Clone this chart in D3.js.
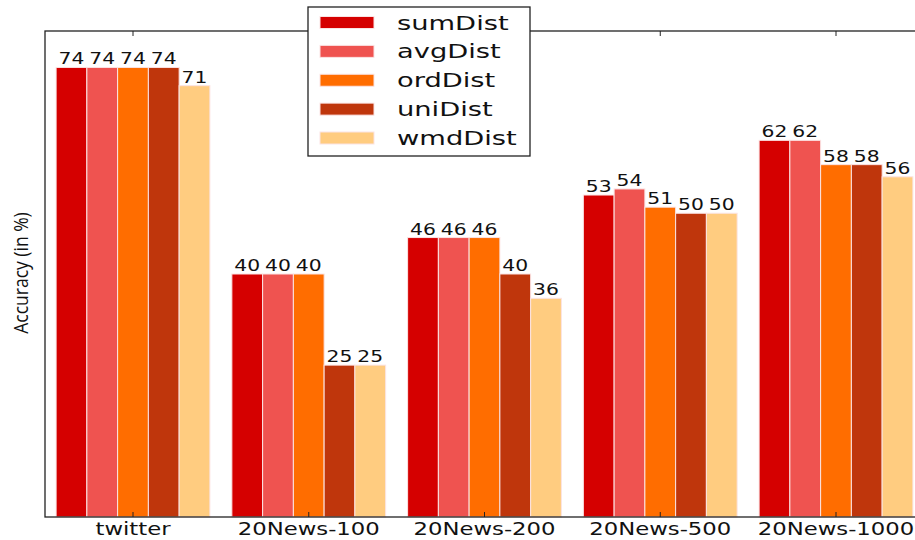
<!DOCTYPE html>
<html>
<head>
<meta charset="utf-8">
<script src="https://cdn.jsdelivr.net/npm/d3@7"></script>
<style>
  html, body { margin: 0; padding: 0; background: #fff; }
  svg { display: block; }
</style>
</head>
<body>
<div id="chart"></div>
<script>
// Datasets on the x axis and the distance measures compared within each
const categories = ["twitter", "20News-100", "20News-200", "20News-500", "20News-1000"];
const series = ["sumDist", "avgDist", "ordDist", "uniDist", "wmdDist"];
const colors = ["#d50000", "#ef5350", "#ff6d00", "#bf360c", "#ffcc80"];

// Accuracy (%) for each measure, one value per dataset
const sumDist = [74, 40, 46, 53, 62];
const avgDist = [74, 40, 46, 54, 62];
const ordDist = [74, 40, 46, 51, 58];
const uniDist = [74, 25, 40, 50, 58];
const wmdDist = [71, 25, 36, 50, 56];
const valuesBySeries = [sumDist, avgDist, ordDist, uniDist, wmdDist];

const W = 915, H = 540;
const plot = { left: 45, top: 31, bottom: 517, right: 924 };

const svg = d3.select("#chart").append("svg")
  .attr("width", W).attr("height", H);

const x = d3.scalePoint().domain(categories).range([133, 836]);
const step = x.step();
const inner = d3.scaleBand().domain(series).range([-0.4375 * step, 0.4375 * step]);
const y = d3.scaleLinear().domain([0, 80]).range([plot.bottom, plot.top]);

const rows = [];
series.forEach((s, si) => {
  categories.forEach((c, ci) => {
    rows.push({ series: s, cat: c, value: valuesBySeries[si][ci], color: colors[si] });
  });
});

// Wide-set text: glyphs are drawn horizontally stretched
function wideText(g, tx, ty, sx) {
  return g.attr("transform", `translate(${tx},${ty}) scale(${sx},1)`);
}

// Bars
svg.append("g").selectAll("rect").data(rows).join("rect")
  .attr("x", d => x(d.cat) + inner(d.series))
  .attr("y", d => y(d.value))
  .attr("width", inner.bandwidth())
  .attr("height", d => y(0) - y(d.value))
  .attr("fill", d => d.color)
  .attr("stroke", "#fbe3e3")
  .attr("stroke-width", 1);

// Value labels above each bar
svg.append("g").selectAll("text").data(rows).join("text")
  .each(function (d) {
    wideText(d3.select(this), x(d.cat) + inner(d.series) + inner.bandwidth() / 2, y(d.value) - 3, 1.27);
  })
  .attr("text-anchor", "middle")
  .attr("font-family", "DejaVu Sans")
  .attr("font-size", 16)
  .attr("fill", "#111")
  .text(d => d3.format("d")(d.value));

// Frame of the plot area
const frame = svg.append("g").attr("stroke", "#222").attr("stroke-width", 1.3).attr("fill", "none");
frame.append("rect")
  .attr("x", plot.left).attr("y", plot.top)
  .attr("width", plot.right - plot.left).attr("height", plot.bottom - plot.top);

// Inward ticks on the bottom and top spines
const tickG = svg.append("g").attr("stroke", "#222").attr("stroke-width", 1);
categories.forEach(c => {
  tickG.append("line").attr("x1", x(c)).attr("x2", x(c)).attr("y1", plot.bottom).attr("y2", plot.bottom - 5);
  tickG.append("line").attr("x1", x(c)).attr("x2", x(c)).attr("y1", plot.top).attr("y2", plot.top + 5);
});

// Category labels
svg.append("g").selectAll("text").data(categories).join("text")
  .each(function (d) { wideText(d3.select(this), x(d), 535, 1.3); })
  .attr("text-anchor", "middle")
  .attr("font-family", "DejaVu Sans")
  .attr("font-size", 17.5)
  .attr("fill", "#111")
  .text(d => d);

// Y axis title
svg.append("text")
  .attr("transform", "translate(28,273) scale(1.15,1) rotate(-90)")
  .attr("text-anchor", "middle")
  .attr("font-family", "Open Sans")
  .attr("font-size", 17.5)
  .attr("fill", "#111")
  .text("Accuracy (in %)");

// Legend
const legend = svg.append("g");
legend.append("rect")
  .attr("x", 308).attr("y", 7).attr("width", 222).attr("height", 149)
  .attr("fill", "#fff").attr("stroke", "#222").attr("stroke-width", 1.3);
const ly = d3.scalePoint().domain(series).range([22.5, 138]);
series.forEach((s, i) => {
  legend.append("rect")
    .attr("x", 320).attr("y", ly(s) - 6).attr("width", 54).attr("height", 12)
    .attr("fill", colors[i]).attr("stroke", "#fbe3e3").attr("stroke-width", 1);
  wideText(legend.append("text"), 397, ly(s) + 7, 1.4)
    .attr("font-family", "DejaVu Sans")
    .attr("font-size", 19.5)
    .attr("fill", "#111")
    .text(s);
});
</script>
</body>
</html>
